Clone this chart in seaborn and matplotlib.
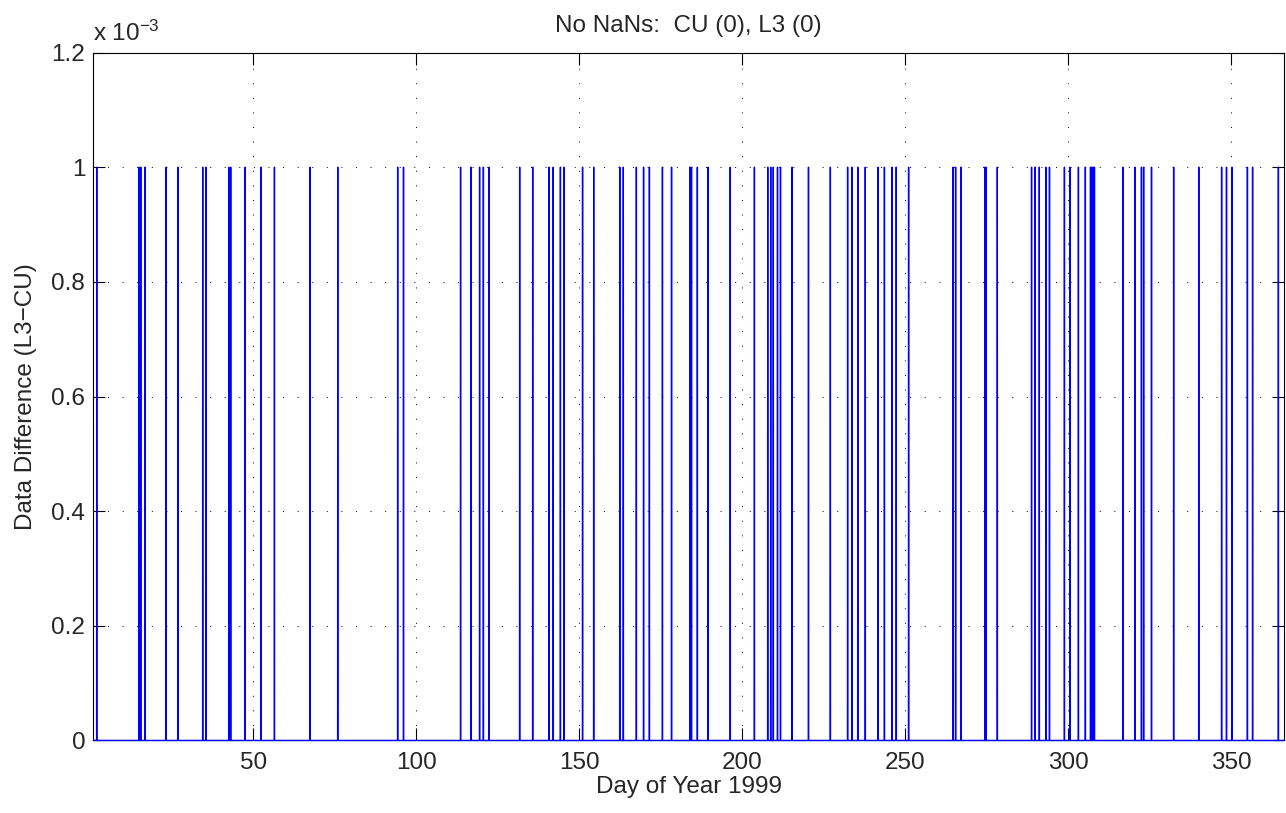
import numpy as np
import pandas as pd
import matplotlib
matplotlib.use("Agg")
import matplotlib.pyplot as plt
import seaborn as sns
from matplotlib.ticker import FuncFormatter

# Days of year 1999 where L3 differs from CU
spike_days = [2.0, 15.0, 15.5, 16.8, 23.3, 26.9, 34.5, 35.5, 42.5, 43.1, 47.5,
              52.4, 56.5, 67.4, 75.9, 94.3, 96.1, 113.6, 116.8, 119.4, 120.6,
              122.3, 131.7, 135.7, 140.7, 142.0, 144.2, 145.3, 151.0, 154.4,
              162.4, 163.5, 167.5, 169.7, 171.5, 175.5, 178.3, 183.9, 184.4,
              186.2, 189.5, 196.3, 203.7, 207.8, 208.7, 209.5, 210.8, 211.7,
              215.3, 220.3, 227.0, 232.3, 233.6, 235.4, 237.7, 241.6, 243.6,
              245.9, 247.2, 251.0, 264.6, 265.4, 267.1, 274.4, 274.8, 278.2,
              288.7, 289.8, 291.1, 293.1, 294.2, 298.8, 300.5, 303.1, 305.2,
              306.8, 307.2, 307.6, 308.0, 316.7, 320.4, 322.4, 323.1, 325.5,
              332.3, 340.0, 347.0, 348.5, 350.2, 354.9, 356.5, 364.4]
spike_value = 1e-3
day_start, day_end = 1, 366
samples_per_day = 24

x_ticks = [50, 100, 150, 200, 250, 300, 350]
y_ticks = [0, 0.2e-3, 0.4e-3, 0.6e-3, 0.8e-3, 1.0e-3, 1.2e-3]

title = "No NaNs:  CU (0), L3 (0)"
xlabel = "Day of Year 1999"
ylabel = "Data Difference (L3\u2212CU)"

# hourly series: zero everywhere except at the spikes
t = np.arange(day_start, day_end + 1e-9, 1 / samples_per_day)
diff = np.zeros_like(t)
idx = np.round((np.array(spike_days) - day_start) * samples_per_day).astype(int)
diff[idx] = spike_value
df = pd.DataFrame({"day": t, "diff": diff})

sns.set_style("ticks")
plt.rcParams["font.family"] = ["Liberation Sans", "DejaVu Sans"]
plt.rcParams["mathtext.fontset"] = "custom"
plt.rcParams["mathtext.rm"] = "Liberation Sans"
plt.rcParams["mathtext.it"] = "Liberation Sans:italic"
plt.rcParams["mathtext.bf"] = "Liberation Sans:bold"

fs = 17.5
fig = plt.figure(figsize=(12.86, 8.13), dpi=100)
ax = fig.add_axes([0.0727, 0.0892, 0.9981 - 0.0727, 0.9354 - 0.0892])

sns.lineplot(data=df, x="day", y="diff", ax=ax, color="blue", linewidth=1.0,
             estimator=None, sort=False, zorder=3, clip_on=False)

ax.set_xlim(day_start, day_end)
ax.set_ylim(0, 1.2e-3)
ax.set_xticks(x_ticks)
ax.set_yticks(y_ticks)
ax.yaxis.set_major_formatter(FuncFormatter(lambda v, p: f"{v / 1e-3:g}"))

ax.grid(True, color="black", linestyle=(0, (1, 14)), linewidth=0.7, zorder=0)
ax.set_axisbelow(True)

for s in ax.spines.values():
    s.set_visible(True)
    s.set_linewidth(0.8)
    s.set_color("black")

ax.tick_params(axis="both", direction="in", length=8.5, width=0.8,
               labelsize=fs, top=True, right=True, color="black")
ax.tick_params(axis="x", pad=8)
ax.tick_params(axis="y", pad=6)

ax.set_xlabel(xlabel, fontsize=fs, labelpad=2)
ax.set_ylabel(ylabel, fontsize=fs, labelpad=10.5)
ax.set_title(title, fontsize=fs, pad=15)

ax.annotate(r"x 10$^{\mathregular{-3}}$", xy=(0, 1), xycoords="axes fraction",
            xytext=(0, 8.4), textcoords="offset points",
            ha="left", va="baseline", fontsize=fs)

fig.savefig("out.png", dpi=100)
